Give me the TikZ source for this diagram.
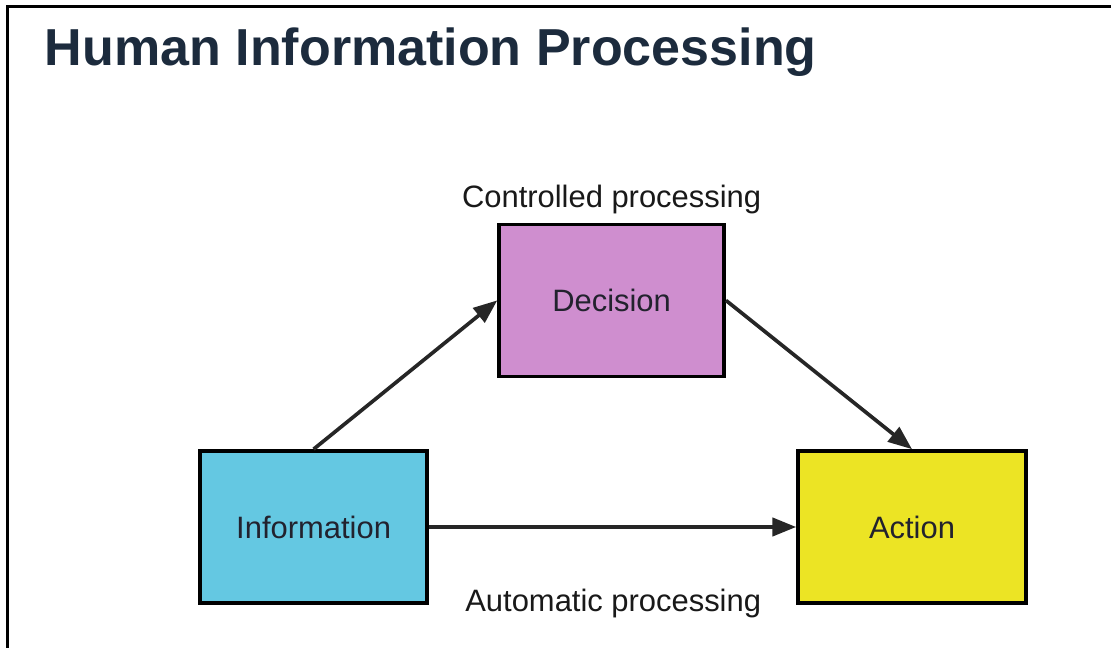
\documentclass[tikz,border=0pt]{standalone}
\usepackage{fontspec}
\setmainfont{Liberation Sans}
\usetikzlibrary{arrows.meta}

\definecolor{titleblue}{HTML}{1C2B3D}
\definecolor{infocyan}{HTML}{64C8E2}
\definecolor{decpink}{HTML}{CF8ECF}
\definecolor{actyellow}{HTML}{ECE424}
\definecolor{textdark}{HTML}{22222E}

\tikzset{
    procbox/.style={draw=black, line width=2.6pt, minimum width=5.6cm, minimum height=3.8cm,
        inner sep=0pt, text=textdark, font=\fontsize{22}{26}\selectfont},
    flow/.style={line width=2.6pt, -{Triangle[length=17pt,width=13pt]}, color=black!85},
    caption/.style={text=black!90, font=\fontsize{22}{26}\selectfont}
}

\begin{document}
\begin{tikzpicture}
    \useasboundingbox (0,0) rectangle (27.775,16.2);
    \fill[white] (0,0) rectangle (27.775,16.2);
    \draw[line width=2.2pt] (0.18,0) -- (0.18,16.03) -- (27.775,16.03);
    \node[anchor=base west, text=titleblue, font=\fontsize{37}{44}\selectfont\bfseries] (title) at (1.0,14.55) {Human Information Processing};
    \node[procbox, fill=infocyan, minimum width=5.675cm] (info) at (7.84,3.025) {Information};
    \node[procbox, fill=decpink, minimum width=5.625cm] (dec) at (15.29,8.69) {Decision};
    \node[procbox, fill=actyellow, minimum width=5.7cm] (act) at (22.8,3.025) {Action};
    \node[caption] (ctrl) at (15.29,11.2) {Controlled processing};
    \node[caption] (auto) at (15.33,1.1) {Automatic processing};
    \draw[flow] (info.north) -- (dec.west);
    \draw[flow] (dec.east) -- (act.north);
    \draw[flow] (info.east) -- (act.west);
\end{tikzpicture}
\end{document}
